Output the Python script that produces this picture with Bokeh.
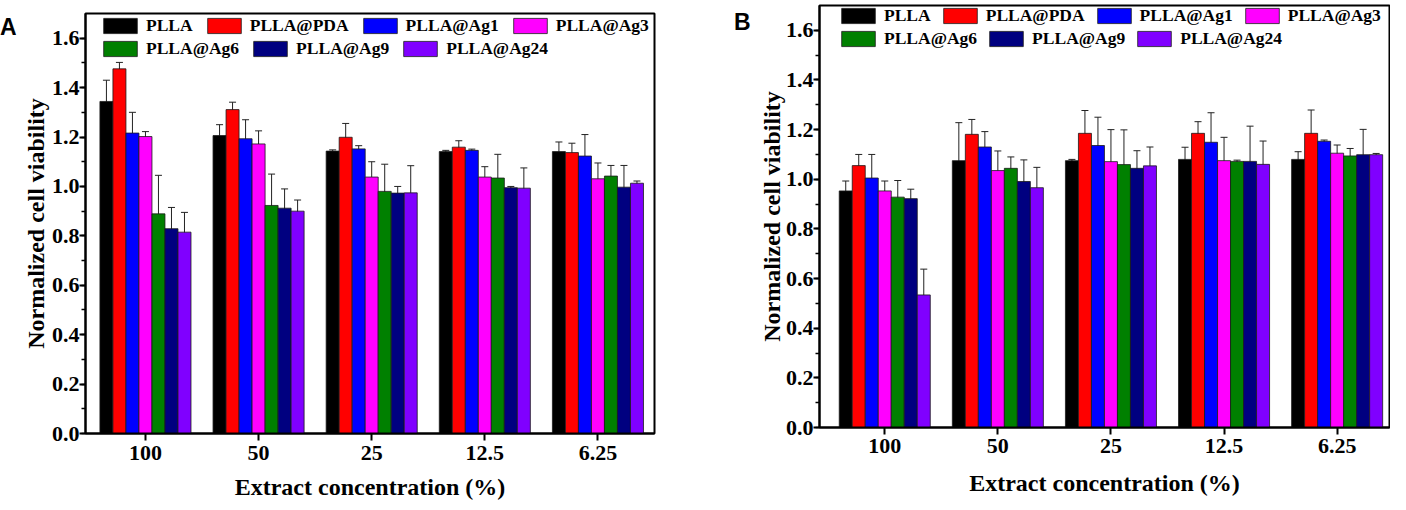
from bokeh.plotting import figure
from bokeh.layouts import row, column
from bokeh.models import (ColumnDataSource, Range1d, FixedTicker, SingleIntervalTicker,
                          PrintfTickFormatter, Whisker, TeeHead, Legend, LegendItem, Div, Spacer)
from bokeh.embed import file_html
from bokeh.resources import INLINE

# ---------------- data ----------------
categories = ["100", "50", "25", "12.5", "6.25"]
series_names = ["PLLA", "PLLA@PDA", "PLLA@Ag1", "PLLA@Ag3", "PLLA@Ag6", "PLLA@Ag9", "PLLA@Ag24"]
series_colors = ["#000000", "#FF0000", "#0000FF", "#FF00FF", "#008000", "#000080", "#8000FF"]

# Panel A : mean values per series (one per concentration)
a_plla = [1.344, 1.206, 1.143, 1.141, 1.141]
a_pda = [1.476, 1.311, 1.199, 1.159, 1.137]
a_ag1 = [1.216, 1.193, 1.152, 1.146, 1.123]
a_ag3 = [1.202, 1.172, 1.038, 1.038, 1.031]
a_ag6 = [0.889, 0.923, 0.980, 1.034, 1.042]
a_ag9 = [0.829, 0.912, 0.973, 0.995, 0.997]
a_ag24 = [0.815, 0.900, 0.974, 0.993, 1.013]
# Panel A : error (SD)
a_plla_err = [0.086, 0.044, 0.005, 0.005, 0.039]
a_pda_err = [0.026, 0.030, 0.056, 0.026, 0.038]
a_ag1_err = [0.084, 0.077, 0.013, 0.005, 0.087]
a_ag3_err = [0.020, 0.053, 0.062, 0.042, 0.064]
a_ag6_err = [0.156, 0.127, 0.110, 0.096, 0.043]
a_ag9_err = [0.086, 0.078, 0.027, 0.005, 0.088]
a_ag24_err = [0.080, 0.045, 0.110, 0.082, 0.009]

# Panel B : mean values
b_plla = [0.953, 1.075, 1.075, 1.080, 1.080]
b_pda = [1.055, 1.181, 1.185, 1.185, 1.185]
b_ag1 = [1.005, 1.130, 1.136, 1.149, 1.153]
b_ag3 = [0.953, 1.035, 1.071, 1.075, 1.105]
b_ag6 = [0.928, 1.044, 1.059, 1.072, 1.094]
b_ag9 = [0.922, 0.991, 1.044, 1.072, 1.099]
b_ag24 = [0.534, 0.966, 1.054, 1.060, 1.099]
# Panel B : error (SD)
b_plla_err = [0.040, 0.153, 0.005, 0.049, 0.031]
b_pda_err = [0.045, 0.060, 0.092, 0.047, 0.094]
b_ag1_err = [0.095, 0.062, 0.114, 0.119, 0.005]
b_ag3_err = [0.040, 0.079, 0.129, 0.094, 0.033]
b_ag6_err = [0.067, 0.046, 0.140, 0.005, 0.030]
b_ag9_err = [0.038, 0.087, 0.071, 0.142, 0.102]
b_ag24_err = [0.104, 0.082, 0.076, 0.094, 0.005]

y_ticks_step = 0.2
y_max = 1.7
x_title = "Extract concentration (%)"
y_title = "Normalized cell viability"

SERIF = "Liberation Serif"
BAR_W = 0.115


def make_panel(values, errors, frame_w, frame_h, border_left, border_right, border_top,
               border_bottom, x_start, x_end, legend_x, legend_top_gap, legend_font,
               legend_spacing, xlabel_standoff, ylabel_standoff, xtitle_standoff,
               ytitle_standoff):
    p = figure(frame_width=frame_w, frame_height=frame_h, output_backend="svg",
               toolbar_location=None, title=None, margin=0,
               x_range=Range1d(x_start, x_end), y_range=Range1d(0, y_max),
               min_border_left=border_left, min_border_right=border_right,
               min_border_top=border_top, min_border_bottom=border_bottom)
    p.grid.visible = False
    p.outline_line_color = "black"
    p.outline_line_width = 2
    p.background_fill_color = "white"

    n = len(series_names)
    renderers = []
    for i, (name, col) in enumerate(zip(series_names, series_colors)):
        xs = [k + 1 + (i - (n - 1) / 2) * BAR_W for k in range(len(categories))]
        vals = values[i]
        errs = errors[i]
        src = ColumnDataSource(dict(x=xs, top=vals,
                                    upper=[v + e for v, e in zip(vals, errs)],
                                    lower=[v - e for v, e in zip(vals, errs)]))
        r = p.vbar(x="x", top="top", width=BAR_W, source=src, fill_color=col,
                   line_color="#1a1a1a", line_width=0.8)
        renderers.append(r)
        w = Whisker(source=src, base="x", upper="upper", lower="lower", dimension="height",
                    line_color="#222222", line_width=1,
                    upper_head=TeeHead(size=7, line_color="#222222", line_width=1),
                    lower_head=TeeHead(size=7, line_color="#222222", line_width=1))
        p.add_layout(w)

    # axes
    xa = p.xaxis[0]
    xa.ticker = FixedTicker(ticks=[k + 1 for k in range(len(categories))])
    xa.major_label_overrides = {k + 1: c for k, c in enumerate(categories)}
    xa.minor_tick_line_color = None
    xa.major_tick_out = 7
    xa.major_tick_in = 0
    xa.major_tick_line_width = 2
    xa.axis_line_width = 2
    xa.major_label_standoff = xlabel_standoff
    xa.axis_label = x_title
    xa.axis_label_standoff = xtitle_standoff

    ya = p.yaxis[0]
    ya.ticker = SingleIntervalTicker(interval=y_ticks_step, num_minor_ticks=2)
    ya.formatter = PrintfTickFormatter(format="%.1f")
    ya.major_tick_out = 6
    ya.major_tick_in = 0
    ya.minor_tick_out = 4
    ya.minor_tick_in = 0
    ya.major_tick_line_width = 2
    ya.minor_tick_line_width = 1.5
    ya.axis_line_width = 2
    ya.major_label_standoff = ylabel_standoff
    ya.axis_label = y_title
    ya.axis_label_standoff = ytitle_standoff

    for ax in (xa, ya):
        ax.major_label_text_font = SERIF
        ax.major_label_text_font_style = "bold"
        ax.major_label_text_font_size = "22px"
        ax.major_label_text_color = "black"
        ax.axis_label_text_font = SERIF
        ax.axis_label_text_font_style = "bold"
        ax.axis_label_text_font_size = "24px"
        ax.axis_label_text_color = "black"
        ax.axis_line_color = "black"
        ax.major_tick_line_color = "black"

    # legends: two horizontal rows
    item_h = 19
    rows = [series_names[:4], series_names[4:]]
    idx = 0
    for r_i, names in enumerate(rows):
        items = []
        for nm in names:
            items.append(LegendItem(label=nm, renderers=[renderers[idx]]))
            idx += 1
        top_gap = legend_top_gap + r_i * 23
        lg = Legend(items=items, orientation="horizontal",
                    location=(legend_x, frame_h - top_gap - item_h),
                    glyph_width=42, glyph_height=item_h, label_height=item_h,
                    label_standoff=5, spacing=legend_spacing, padding=0, margin=0,
                    border_line_alpha=0, background_fill_alpha=0,
                    label_text_font=SERIF, label_text_font_style="bold",
                    label_text_font_size=legend_font, label_text_color="black")
        p.add_layout(lg)
    return p


def letter_div(letter, pad_top):
    return Div(text=letter, width=16, height=60, margin=0,
               styles={"font-family": "Liberation Sans", "font-weight": "bold",
                       "font-size": "23px", "color": "black", "padding-top": f"{pad_top}px",
                       "line-height": "26px", "width": "16px", "overflow": "visible"})


a_values = [a_plla, a_pda, a_ag1, a_ag3, a_ag6, a_ag9, a_ag24]
a_errors = [a_plla_err, a_pda_err, a_ag1_err, a_ag3_err, a_ag6_err, a_ag9_err, a_ag24_err]
b_values = [b_plla, b_pda, b_ag1, b_ag3, b_ag6, b_ag9, b_ag24]
b_errors = [b_plla_err, b_pda_err, b_ag1_err, b_ag3_err, b_ag6_err, b_ag9_err, b_ag24_err]

pA = make_panel(a_values, a_errors, frame_w=569, frame_h=420, border_left=69,
                border_right=80, border_top=5, border_bottom=60, x_start=0.47, x_end=5.5,
                legend_x=14, legend_top_gap=4, legend_font="17.5px", legend_spacing=10,
                xlabel_standoff=5, ylabel_standoff=0, xtitle_standoff=11, ytitle_standoff=0)
pB = make_panel(b_values, b_errors, frame_w=570, frame_h=422, border_left=69,
                border_right=1, border_top=5, border_bottom=60, x_start=0.423, x_end=5.463,
                legend_x=18, legend_top_gap=2, legend_font="17.5px", legend_spacing=8,
                xlabel_standoff=4, ylabel_standoff=0, xtitle_standoff=14, ytitle_standoff=-2)

layout = row(letter_div("A", 14),
             column(Spacer(height=8, width=10, margin=0), pA, margin=0, spacing=0),
             letter_div("B", 9), pB, margin=0, spacing=0)
open("out.html", "w").write(file_html(layout, INLINE))
